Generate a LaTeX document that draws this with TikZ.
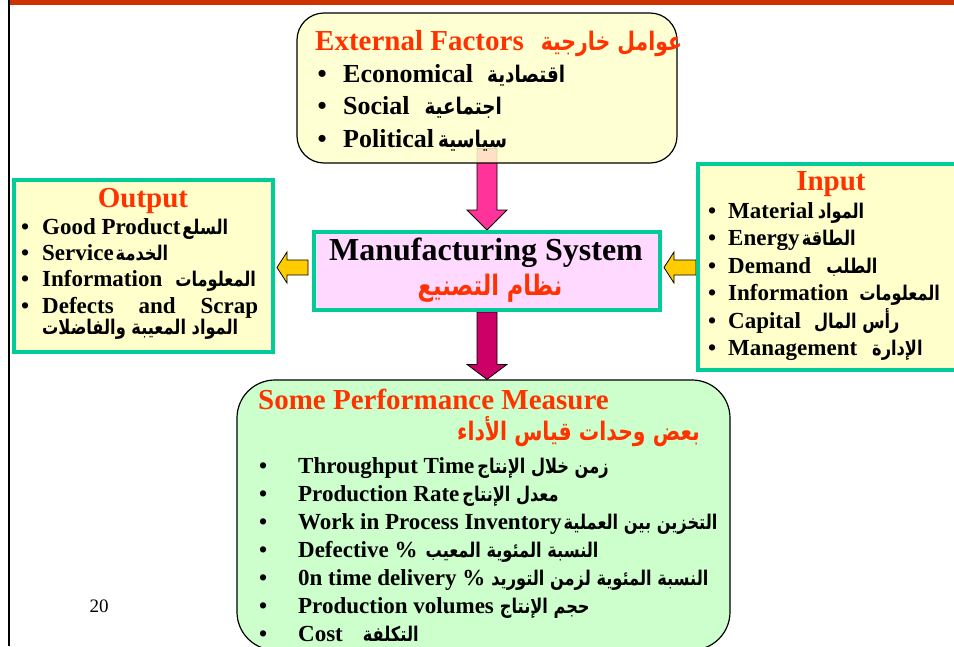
\documentclass[tikz,border=0pt]{standalone}
\usepackage{graphicx}
\usepackage{fontspec}
\setmainfont{Liberation Serif}
\newfontfamily\arabicfont[Script=Arabic,Scale=0.88]{DejaVu Sans}
\TeXXeTstate=1
\usetikzlibrary{calc,backgrounds}

\definecolor{titlered}{HTML}{FF3300}
\definecolor{topred}{HTML}{CC3300}
\definecolor{boxteal}{HTML}{00CC99}
\definecolor{paleyellow}{HTML}{FFFFCC}
\definecolor{palepink}{HTML}{FFD9FF}
\definecolor{palegreen}{HTML}{CCFFCC}
\definecolor{arrowyellow}{HTML}{FFCC00}
\definecolor{arrowpink}{HTML}{FF3399}
\definecolor{arrowmag}{HTML}{CC0066}

\newcommand{\setfs}[1]{\fontsize{#1}{#1}\selectfont}
\newcommand{\artxt}[1]{\scalebox{0.8}[1]{\arabicfont\bfseries\beginR #1\endR}}
\newcommand{\bul}[1]{\makebox[0pt][r]{\textbullet\hspace{#1}}}

\tikzset{
    panel/.style={draw=boxteal, line width=4pt, inner sep=0pt},
    roundpanel/.style={draw=black, line width=1.2pt, inner sep=0pt},
    headtxt/.style={font=\bfseries\setfs{29}, text=titlered, inner sep=0pt, anchor=base},
    itemtxt/.style={font=\bfseries\setfs{23}, inner sep=0pt, anchor=base west},
    blockarrow/.style={draw=black, line width=0.8pt, line join=miter}
}

\begin{document}
\begin{tikzpicture}[x=1pt,y=-1pt]
            \useasboundingbox (0,0) rectangle (954,646);
            \fill[topred] (9,0) rectangle (954,4.5);
            \draw[line width=2.5pt] (9,0) -- (9,646);

            % boxes
            \node[roundpanel, rounded corners=27pt, fill=paleyellow, fill opacity=0.85, minimum width=380pt, minimum height=150pt] (ext) at (487,88) {};
            \node[panel, fill=palepink, minimum width=346pt, minimum height=78pt] (ms) at (487,271) {};
            \node[panel, fill=paleyellow, minimum width=259pt, minimum height=172pt] (out) at (143.5,266) {};
            \node[panel, fill=paleyellow, minimum width=264pt, minimum height=206pt] (inp) at (830,267) {};
            \node[roundpanel, rounded corners=38pt, fill=palegreen, minimum width=493pt, minimum height=270pt] (perf) at (483.5,515) {};

            % external factors
            \node[headtxt, anchor=base west] (ext-title) at (315,50) {External Factors\hspace{17pt}\artxt{عوامل خارجية}};
            \node[itemtxt, font=\bfseries\setfs{26}] (ext-eco) at (343,82) {\bul{16.5pt}Economical\hspace{14pt}\artxt{اقتصادية}};
            \node[itemtxt, font=\bfseries\setfs{26}] (ext-soc) at (343,114.5) {\bul{16.5pt}Social\hspace{15pt}\artxt{اجتماعية}};
            \node[itemtxt, font=\bfseries\setfs{26}] (ext-pol) at (343,147) {\bul{16.5pt}Political\hspace{4pt}\artxt{سياسية}};

            % manufacturing system
            \node[font=\bfseries\setfs{32}, inner sep=0pt, anchor=base] (ms-en) at (486,260) {Manufacturing System};
            \node[headtxt, font=\bfseries\setfs{32}] (ms-ar) at (490,295) {\artxt{نظام التصنيع}};

            % output
            \node[headtxt] (out-title) at (143,207) {Output};
            \node[itemtxt] (out-good) at (42,234) {\bul{13pt}Good Product\hspace{2pt}\artxt{السلع}};
            \node[itemtxt] (out-serv) at (42,260) {\bul{13pt}Service\hspace{2pt}\artxt{الخدمة}};
            \node[itemtxt] (out-info) at (42,286) {\bul{13pt}Information\hspace{13pt}\artxt{المعلومات}};
            \node[itemtxt] (out-def) at (42,313) {\bul{13pt}\makebox[216pt][s]{Defects and Scrap}};
            \node[itemtxt] (out-def-ar) at (42,334) {\artxt{المواد المعيبة والفاضلات}};

            % input
            \node[headtxt] (inp-title) at (831,190) {Input};
            \node[itemtxt] (inp-mat) at (728,218) {\bul{12pt}Material\hspace{4pt}\artxt{المواد}};
            \node[itemtxt] (inp-ene) at (728,245.5) {\bul{12pt}Energy\hspace{2pt}\artxt{الطاقة}};
            \node[itemtxt] (inp-dem) at (728,273) {\bul{12pt}Demand\hspace{15pt}\artxt{الطلب}};
            \node[itemtxt] (inp-info) at (728,300.5) {\bul{12pt}Information\hspace{11pt}\artxt{المعلومات}};
            \node[itemtxt] (inp-cap) at (728,328) {\bul{12pt}Capital\hspace{13pt}\artxt{رأس المال}};
            \node[itemtxt] (inp-man) at (728,355.5) {\bul{12pt}Management\hspace{15pt}\artxt{الإدارة}};

            % performance measure
            \node[headtxt, anchor=base west] (perf-title) at (258,409) {Some Performance Measure};
            \node[headtxt, anchor=base east] (perf-ar) at (700,440) {\artxt{بعض وحدات قياس الأداء}};
            \node[itemtxt] (perf-tput) at (298,473) {\bul{31pt}Throughput Time\hspace{3pt}\artxt{زمن خلال الإنتاج}};
            \node[itemtxt] (perf-rate) at (298,501) {\bul{31pt}Production Rate\hspace{3pt}\artxt{معدل الإنتاج}};
            \node[itemtxt] (perf-wip) at (298,529) {\bul{31pt}Work in Process Inventory\hspace{2pt}\artxt{التخزين بين العملية}};
            \node[itemtxt] (perf-defc) at (298,557) {\bul{31pt}Defective \%\hspace{8pt}\artxt{النسبة المئوية المعيب}};
            \node[itemtxt] (perf-time) at (298,585) {\bul{31pt}0n time delivery \%\hspace{6pt}\artxt{النسبة المئوية لزمن التوريد}};
            \node[itemtxt] (perf-vol) at (298,613) {\bul{31pt}Production volumes\hspace{6pt}\artxt{حجم الإنتاج}};
            \node[itemtxt] (perf-cost) at (298,641) {\bul{31pt}Cost\hspace{20pt}\artxt{التكلفة}};

            \node[font=\setfs{19}, inner sep=0pt, anchor=base] (page-no) at (99,612) {20};

            % arrows
            \coordinate (out-tip) at ($(out.east)+(2,1.5)$);
            \coordinate (ms-tip) at ($(ms.east)+(2,-3.5)$);
            \coordinate (perf-tip) at (ms.south |- perf.north);
            \begin{pgfonlayer}{background}
            \draw[blockarrow, fill=arrowpink] ($(ext.south)+(-10,-15)$) -- ($(ms.north)+(-10,-20)$) -- ($(ms.north)+(-20,-20)$) -- (ms.north) -- ($(ms.north)+(20,-20)$) -- ($(ms.north)+(10,-20)$) -- ($(ext.south)+(10,-15)$) -- cycle;
            \draw[blockarrow, fill=arrowmag] ($(ms.south)+(-10,0)$) -- ($(perf-tip)+(-10,-15)$) -- ($(perf-tip)+(-20,-15)$) -- (perf-tip) -- ($(perf-tip)+(20,-15)$) -- ($(perf-tip)+(10,-15)$) -- ($(ms.south)+(10,0)$) -- cycle;
            \draw[blockarrow, fill=arrowyellow] (out-tip) -- ++(10,-15.5) -- ++(0,8) -- ($(out-tip -| ms.west)+(-4,-7.5)$) -- ++(0,15) -- ($(out-tip)+(10,7.5)$) -- ++(0,8) -- cycle;
            \draw[blockarrow, fill=arrowyellow] (ms-tip) -- ++(10,-15.5) -- ++(0,8) -- ($(ms-tip -| inp.west)+(0,-7.5)$) -- ++(0,15) -- ($(ms-tip)+(10,7.5)$) -- ++(0,8) -- cycle;
            \end{pgfonlayer}
\end{tikzpicture}
\end{document}
